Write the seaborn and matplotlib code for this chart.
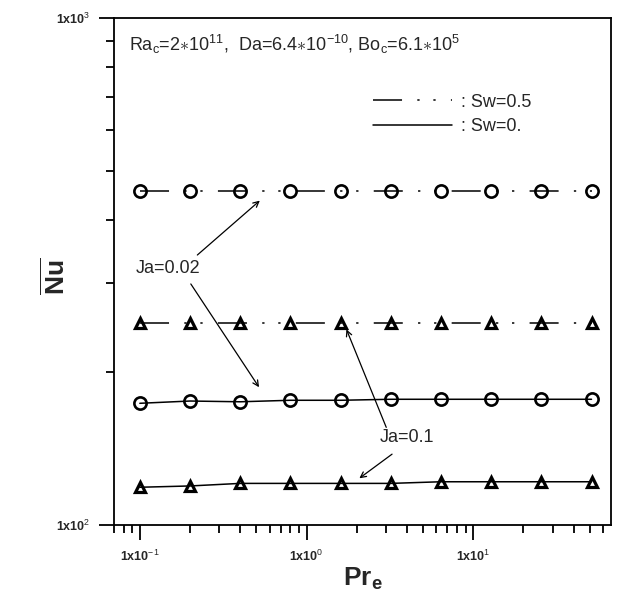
import numpy as np
import pandas as pd
import seaborn as sns
import matplotlib
matplotlib.use("Agg")
import matplotlib.pyplot as plt
from matplotlib.ticker import FixedLocator, FixedFormatter, NullFormatter
from matplotlib.lines import Line2D

# ---- data ----
pr_e = [0.1, 0.2, 0.4, 0.8, 1.6, 3.2, 6.4, 12.8, 25.6, 51.2]
nu_sw05_ja002 = [455, 455, 455, 455, 455, 455, 455, 455, 455, 455]
nu_sw05_ja01 = [250, 250, 250, 250, 250, 250, 250, 250, 250, 250]
nu_sw0_ja002 = [173.8, 175.6, 175.0, 176.2, 176.2, 177, 177, 177, 177, 177]
nu_sw0_ja01 = [118.7, 119.4, 120.8, 120.8, 120.8, 120.8, 121.7, 121.7, 121.7, 121.7]

x_major = [0.1, 1, 10]
x_major_labels = [r"1x10$^{-1}$", r"1x10$^{0}$", r"1x10$^{1}$"]
y_major = [100, 1000]
y_major_labels = [r"1x10$^{2}$", r"1x10$^{3}$"]

sns.set_theme(style="ticks")
plt.rcParams["font.family"] = ["Liberation Sans", "DejaVu Sans"]
plt.rcParams["mathtext.fontset"] = "custom"
plt.rcParams["mathtext.rm"] = "Liberation Sans"
plt.rcParams["mathtext.it"] = "Liberation Sans"
plt.rcParams["mathtext.bf"] = "Liberation Sans:bold"

fig = plt.figure(figsize=(6.23, 6.0), dpi=100)
ax = fig.add_axes([114 / 623, 1 - 525 / 600, (611 - 114) / 623, (525 - 18) / 600])
ax.set_xscale("log")
ax.set_yscale("log")

sw05_ls = (0, (19, 10, 1.5, 9, 1.5, 10))

series = [
    (nu_sw05_ja002, "o", sw05_ls, 8.8, 1.9),
    (nu_sw05_ja01, "^", sw05_ls, 7, 2.3),
    (nu_sw0_ja002, "o", "-", 8.8, 1.9),
    (nu_sw0_ja01, "^", "-", 7, 2.3),
]
for vals, mk, ls, ms, mw in series:
    df = pd.DataFrame({"Pr": pr_e, "Nu": vals})
    sns.lineplot(data=df, x="Pr", y="Nu", ax=ax, color="black", lw=1.1,
                 linestyle=ls, marker=mk, markersize=ms, mfc="none",
                 mec="black", mew=mw, estimator=None, sort=False)

ax.set_xlim(0.07, 67)
ax.set_ylim(100, 1000)

# ticks
ax.xaxis.set_major_locator(FixedLocator(x_major))
ax.xaxis.set_major_formatter(FixedFormatter(x_major_labels))
x_minor = [m * 10.0 ** e for e in (-2, -1, 0, 1) for m in range(2, 10)]
ax.xaxis.set_minor_locator(FixedLocator(x_minor))
ax.xaxis.set_minor_formatter(NullFormatter())
ax.yaxis.set_major_locator(FixedLocator(y_major))
ax.yaxis.set_major_formatter(FixedFormatter(y_major_labels))
y_minor = [m * 100 for m in range(2, 10)]
ax.yaxis.set_minor_locator(FixedLocator(y_minor))
ax.yaxis.set_minor_formatter(NullFormatter())

ax.tick_params(axis="both", which="major", direction="out", length=11, width=1.3,
               color="black", labelsize=9, pad=6)
ax.tick_params(axis="both", which="minor", direction="out", length=6, width=1.3,
               color="black")
for lab in ax.get_xticklabels() + ax.get_yticklabels():
    lab.set_fontweight("bold")
for s in ax.spines.values():
    s.set_color("black")
    s.set_linewidth(1.3)

ax.set_xlabel(r"Pr$_\mathbf{e}$", fontsize=19, fontweight="bold")
ax.xaxis.set_label_coords(0.5, -0.080)
ax.set_ylabel(r"$\overline{\mathbf{Nu}}$", fontsize=19)
ax.yaxis.set_label_coords(-0.088, 0.49)

# header text
ax.text(0.03, 0.947, r"Ra$_c$=2$\ast$10$^{11}$,  Da=6.4$\ast$10$^{-10}$, Bo$_c$=6.1$\ast$10$^{5}$",
        transform=ax.transAxes, fontsize=13, va="center", ha="left")

# custom legend
leg_lines = [Line2D([], [], color="black", lw=1.1, linestyle=sw05_ls),
             Line2D([], [], color="black", lw=1.1, linestyle="-")]
leg = ax.legend(leg_lines, [": Sw=0.5", ": Sw=0."], loc="upper left",
                bbox_to_anchor=(0.521, 0.851), frameon=False, fontsize=13,
                handlelength=4.4, handletextpad=0.5, labelspacing=0.42,
                borderpad=0, borderaxespad=0)

# annotations
arrow_kw = dict(arrowstyle="->", color="black", lw=0.9, mutation_scale=10)
ax.text(0.094, 321, "Ja=0.02", fontsize=13, va="center", ha="left")
ax.annotate("", xy=(0.54, 440), xytext=(0.215, 338), arrowprops=arrow_kw)
ax.annotate("", xy=(0.53, 185), xytext=(0.198, 302), arrowprops=arrow_kw)
ax.text(2.73, 149, "Ja=0.1", fontsize=13, va="center", ha="left")
ax.annotate("", xy=(1.71, 246), xytext=(3.05, 154), arrowprops=arrow_kw)
ax.annotate("", xy=(2.01, 122.7), xytext=(3.36, 139), arrowprops=arrow_kw)

fig.savefig("out.png", dpi=100, facecolor="white")
